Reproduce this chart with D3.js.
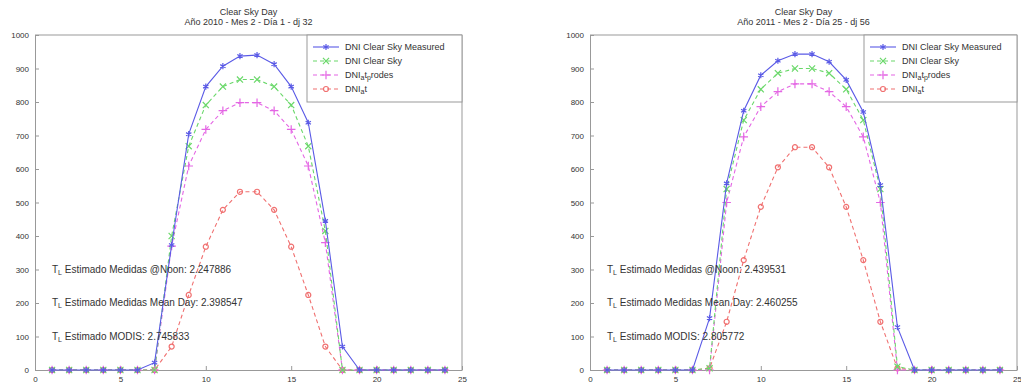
<!DOCTYPE html>
<html>
<head>
<meta charset="utf-8">
<script src="https://cdn.jsdelivr.net/npm/d3@7"></script>
<style>
  html, body { margin: 0; padding: 0; background: #fff; }
  svg { display: block; font-family: "Liberation Sans", Arial, sans-serif; }
</style>
</head>
<body>
<svg id="fig" width="1021" height="387"></svg>
<script>
// Hour of day for each sample
const hours = d3.range(1, 25);

// Panel 1: 2010-02-01 (dj 32)
const measured2010 = [0,0,0,0,0,0,22,373,704,846,907,937,940,913,846,738,445,70,0,0,0,0,0,0];
const clearSky2010 = [0,0,0,0,0,0,0,400,668,791,846,867,867,846,791,668,415,0,0,0,0,0,0,0];
const atProdes2010 = [0,0,0,0,0,0,0,370,609,718,774,798,798,774,718,609,380,0,0,0,0,0,0,0];
const at2010       = [0,0,0,0,0,0,0,70,224,368,478,532,532,478,368,224,70,0,0,0,0,0,0,0];
const tl2010 = ["2.247886", "2.398547", "2.745833"];

// Panel 2: 2011-02-25 (dj 56)
const measured2011 = [0,0,0,0,0,0,155,557,774,880,923,943,943,920,866,770,552,128,0,0,0,0,0,0];
const clearSky2011 = [0,0,0,0,0,0,5,540,746,838,886,900,900,886,838,746,540,10,0,0,0,0,0,0];
const atProdes2011 = [0,0,0,0,0,0,0,500,696,786,831,854,854,831,786,696,500,0,0,0,0,0,0,0];
const at2011       = [0,0,0,0,0,0,5,144,328,487,605,665,665,605,487,328,144,5,0,0,0,0,0,0];
const tl2011 = ["2.439531", "2.460255", "2.805772"];

const xTicks = [0, 5, 10, 15, 20, 25];
const yTicks = d3.range(0, 1001, 100);
const tlLabels = ["Medidas @Noon: ", "Medidas Mean Day: ", "MODIS: "];

// Series styling: colour, dash pattern, marker symbol
const seriesStyle = [
  { name: [["DNI Clear Sky Measured", false]], color: "#5a5ae6", dash: null,  symbol: d3.symbolAsterisk },
  { name: [["DNI Clear Sky", false]],          color: "#6ad86a", dash: "4,3", symbol: d3.symbolTimes },
  { name: [["DNI", false], ["a", true], ["t", false], ["p", true], ["rodes", false]], color: "#e466e4", dash: "4,3", symbol: d3.symbolPlus },
  { name: [["DNI", false], ["a", true], ["t", false]], color: "#f07070", dash: "4,3", symbol: d3.symbolCircle }
];

const svg = d3.select("#fig");

function drawPanel(opts) {
  const { left, right, top, bottom, title2, series, tl, legendLeft } = opts;
  const g = svg.append("g");

  const x = d3.scaleLinear().domain([0, 25]).range([left, right]);
  const y = d3.scaleLinear().domain([0, 1000]).range([bottom, top]);

  // Titles
  const cx = (left + right) / 2;
  g.append("text").attr("x", cx).attr("y", 15).attr("text-anchor", "middle")
    .attr("font-size", 9).attr("fill", "#333").text("Clear Sky Day");
  g.append("text").attr("x", cx).attr("y", 25).attr("text-anchor", "middle")
    .attr("font-size", 9).attr("fill", "#333").text(title2);

  // Axes
  const xAxis = d3.axisBottom(x).tickValues(xTicks).tickFormat(d3.format("d"))
    .tickSizeInner(-4).tickSizeOuter(0).tickPadding(6);
  const yAxis = d3.axisLeft(y).tickValues(yTicks).tickFormat(d3.format("d"))
    .tickSizeInner(-4).tickSizeOuter(0).tickPadding(6);

  const gx = g.append("g").attr("transform", `translate(0,${bottom})`).call(xAxis);
  const gy = g.append("g").attr("transform", `translate(${left},0)`).call(yAxis);
  [gx, gy].forEach(a => {
    a.select(".domain").attr("stroke", "#999");
    a.selectAll(".tick line").attr("stroke", "#999");
    a.selectAll(".tick text").attr("font-size", 8).attr("fill", "#333")
      .attr("font-family", "'Liberation Sans', Arial, sans-serif");
  });
  // Top and right box edges
  g.append("line").attr("x1", left).attr("x2", right).attr("y1", top).attr("y2", top).attr("stroke", "#999");
  g.append("line").attr("x1", right).attr("x2", right).attr("y1", top).attr("y2", bottom).attr("stroke", "#999");

  // Series, drawn bottom-up so the measured curve sits on top
  const line = d3.line().x((d, i) => x(hours[i])).y(d => y(d));
  for (let s = series.length - 1; s >= 0; s--) {
    const st = seriesStyle[s];
    const vals = series[s];
    g.append("path").datum(vals).attr("d", line)
      .attr("fill", "none").attr("stroke", st.color).attr("stroke-width", 1.1)
      .attr("stroke-dasharray", st.dash);
    const sym = d3.symbol().type(st.symbol).size(st.symbol === d3.symbolCircle ? 20 : 26);
    g.selectAll(null).data(vals).enter().append("path")
      .attr("d", sym)
      .attr("transform", (d, i) => `translate(${x(hours[i])},${y(d)})`)
      .attr("fill", "none").attr("stroke", st.color).attr("stroke-width", 1.2);
  }

  // TL annotations
  tl.forEach((v, i) => {
    const t = g.append("text").attr("x", left + 17).attr("y", y(300 - i * 100) + 3)
      .attr("font-size", 10).attr("fill", "#333");
    t.append("tspan").text("T");
    t.append("tspan").attr("font-size", 7).attr("dy", 2).text("L");
    t.append("tspan").attr("dy", -2).text(" Estimado " + tlLabels[i] + v);
  });

  // Legend
  const lx = legendLeft, ly = top, lw = right - legendLeft, lh = 67;
  g.append("rect").attr("x", lx).attr("y", ly).attr("width", lw).attr("height", lh)
    .attr("fill", "#fff").attr("stroke", "#999");
  seriesStyle.forEach((st, i) => {
    const yy = ly + 12 + i * 14;
    g.append("line").attr("x1", lx + 6).attr("x2", lx + 32).attr("y1", yy).attr("y2", yy)
      .attr("stroke", st.color).attr("stroke-width", 1.1).attr("stroke-dasharray", st.dash);
    g.append("path").attr("d", d3.symbol().type(st.symbol).size(st.symbol === d3.symbolCircle ? 20 : 26))
      .attr("transform", `translate(${lx + 19},${yy})`)
      .attr("fill", "none").attr("stroke", st.color).attr("stroke-width", 1.2);
    const t = g.append("text").attr("x", lx + 38).attr("y", yy + 3)
      .attr("font-size", 9).attr("fill", "#333");
    let shifted = false;
    st.name.forEach(([txt, sub]) => {
      const sp = t.append("tspan").text(txt);
      if (sub) {
        sp.attr("font-size", 7);
        if (!shifted) { sp.attr("dy", 2); shifted = true; }
      } else if (shifted) {
        sp.attr("dy", -2); shifted = false;
      }
    });
  });
}

drawPanel({
  left: 35, right: 462, top: 35, bottom: 370,
  title2: "Año 2010 - Mes 2 - Día 1 - dj 32",
  series: [measured2010, clearSky2010, atProdes2010, at2010],
  tl: tl2010, legendLeft: 307
});

drawPanel({
  left: 590, right: 1017, top: 35, bottom: 370,
  title2: "Año 2011 - Mes 2 - Día 25 - dj 56",
  series: [measured2011, clearSky2011, atProdes2011, at2011],
  tl: tl2011, legendLeft: 864
});
</script>
</body>
</html>
